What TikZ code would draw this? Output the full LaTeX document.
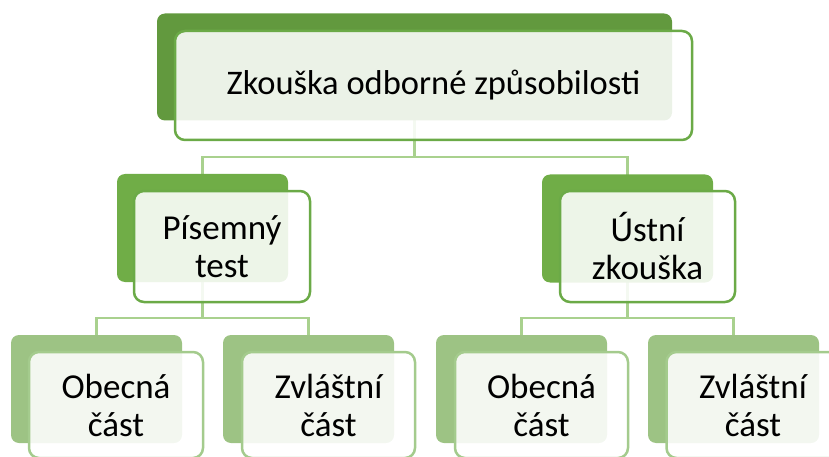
\documentclass[tikz,border=0pt]{standalone}
\usepackage{fontspec}
\setmainfont{Carlito}
\usetikzlibrary{positioning}
\definecolor{lvlone}{HTML}{62993E}
\definecolor{lvltwo}{HTML}{70AD47}
\definecolor{lvlthree}{HTML}{9DC384}
\definecolor{edgeone}{HTML}{6BAA47}
\definecolor{edgethree}{HTML}{A4CB8D}
\definecolor{linkgreen}{HTML}{A9D18E}

\begin{document}
\begin{tikzpicture}[x=1pt, y=-1pt,
    backbox/.style={fill=#1, rounded corners=8pt, minimum width=171pt, minimum height=108pt},
    frontbox/.style={draw=#1, line width=2.5pt, fill=white, fill opacity=0.88, text opacity=1,
                     rounded corners=10pt, align=center, font=\fontsize{35}{38}\selectfont},
    link/.style={draw=linkgreen, line width=2.5pt},
]
    \useasboundingbox (0,0) rectangle (829,457);

    % connectors first, behind the boxes
    \coordinate (topknee) at (414.5,157);
    \draw[link] (414.5,120) -- (topknee) -| (202.5,174);
    \draw[link] (topknee) -| (627.5,175);
    \draw[link] (202.5,282) -- (202.5,318) -| (96.5,335);
    \draw[link] (202.5,318) -| (308.5,335);
    \draw[link] (627.5,282) -- (627.5,318) -| (521.5,335);
    \draw[link] (627.5,318) -| (733.5,335);

    % back boxes
    \node[backbox=lvlone, minimum width=515pt, minimum height=107pt] (top-back) at (414.5,67) {};
    \node[backbox=lvltwo] (pis-back) at (202.5,228) {};
    \node[backbox=lvltwo] (ust-back) at (627.5,228.5) {};
    \node[backbox=lvlthree] (obA-back) at (96.5,389) {};
    \node[backbox=lvlthree] (zvA-back) at (308.5,389) {};
    \node[backbox=lvlthree] (obB-back) at (521.5,389) {};
    \node[backbox=lvlthree] (zvB-back) at (733.5,389) {};

    % front boxes
    \node[frontbox=edgeone, minimum width=517pt, minimum height=109pt,
          font=\fontsize{34.5}{38}\selectfont] (top) at (433.5,85.5) {Zkouška odborné způsobilosti};
    \node[frontbox=edgeone, minimum width=176pt, minimum height=111pt] (pis) at (222,246.5) {Písemný\\test};
    \node[frontbox=edgeone, minimum width=175pt, minimum height=111pt] (ust) at (647.5,246.5) {Ústní\\zkouška};
    \node[frontbox=edgethree, minimum width=174pt, minimum height=106pt] (obA) at (116,405) {Obecná\\část};
    \node[frontbox=edgethree, minimum width=173pt, minimum height=106pt] (zvA) at (328.5,405) {Zvláštní\\část};
    \node[frontbox=edgethree, minimum width=173pt, minimum height=106pt] (obB) at (541.5,405) {Obecná\\část};
    \node[frontbox=edgethree, minimum width=173pt, minimum height=106pt] (zvB) at (753,405) {Zvláštní\\část};
\end{tikzpicture}
\end{document}
